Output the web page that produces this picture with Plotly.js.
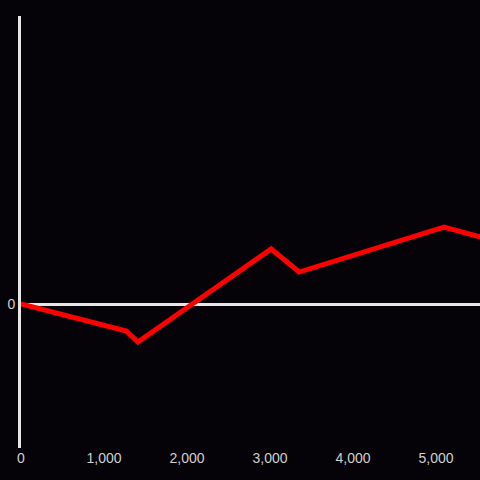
<!DOCTYPE html>
<html>
<head>
<meta charset="utf-8">
<script src="https://cdn.plot.ly/plotly-3.0.1.min.js"></script>
<style>html,body{margin:0;padding:0;background:#050307;}#chart{width:480px;height:480px;}</style>
</head>
<body>
<div id="chart"></div>
<script>
const xValues = [0, 1270, 1408, 3014, 3351, 5096, 5530];
const yValues = [0, -9.4, -13.2, 19.1, 11.1, 26.7, 23.3];
const xTickVals = [0, 1000, 2000, 3000, 4000, 5000];
const xTickText = ["0", "1,000", "2,000", "3,000", "4,000", "5,000"];
const yTickVals = [0];
const yTickText = ["0"];

Plotly.newPlot('chart', [{
  x: xValues, y: yValues, type: 'scatter', mode: 'lines',
  line: {color: '#ff0000', width: 5}, hoverinfo: 'none'
}], {
  width: 480, height: 480,
  margin: {l: 21, r: 0, t: 16, b: 32},
  paper_bgcolor: '#050307', plot_bgcolor: '#050307',
  showlegend: false,
  font: {family: 'Liberation Sans, Arial, sans-serif', size: 14, color: '#d0d0d0'},
  xaxis: {range: [0, 5530], tickvals: xTickVals, ticktext: xTickText, showgrid: false,
          zeroline: false, showline: false, ticks: '', fixedrange: true},
  yaxis: {range: [-50, 100], tickvals: yTickVals, ticktext: yTickText, showgrid: false,
          zeroline: true, zerolinecolor: '#e6e6e6', zerolinewidth: 3,
          showline: true, linecolor: '#e6e6e6', linewidth: 3, ticks: '', fixedrange: true}
}, {staticPlot: true});
</script>
</body>
</html>
